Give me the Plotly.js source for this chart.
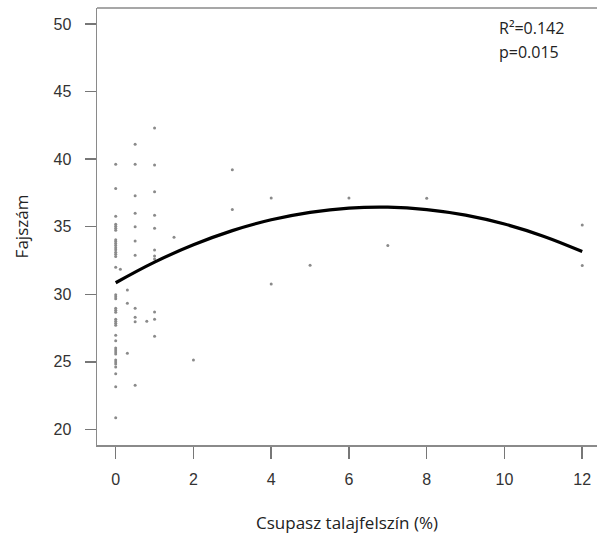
<!DOCTYPE html>
<html>
<head>
<meta charset="utf-8">
<script src="https://cdn.plot.ly/plotly-3.0.1.min.js"></script>
<style>html,body{margin:0;padding:0;background:#fff;}</style>
</head>
<body>
<div id="chart" style="width:597px;height:539px;"></div>
<script>
// Observed points: bare ground (%) and species count, grouped by x value
const x0Y   = [39.63,37.82,35.78,35.19,35.04,34.89,34.74,34.04,33.90,33.75,33.60,33.45,33.30,33.11,32.96,32.79,32.00,
               29.97,29.82,29.67,28.96,28.81,28.67,28.15,28.00,27.85,27.70,26.96,26.56,26.02,25.87,25.72,25.58,25.13,24.98,24.84,24.61,24.12,23.16,20.86];
const x012Y = [31.85];
const x03Y  = [30.32,29.33,25.63];
const x05Y  = [41.11,39.63,37.30,36.00,35.00,33.95,32.89,28.96,28.30,27.97,23.26];
const x08Y  = [28.00];
const x1Y   = [42.31,39.56,37.58,35.85,34.89,33.28,32.84,32.61,28.69,28.15,26.89];
const otherX = [1.5, 2, 3, 3, 4, 4, 5, 6, 7, 8, 12, 12];
const otherY = [34.22, 25.13, 39.21, 36.27, 37.13, 30.76, 32.15, 37.13, 33.60, 37.11, 35.13, 32.12];
// Fitted quadratic curve
const fitX = [0,1,2,3,4,5,6,7,8,9,10,11,12];
const fitY = [30.85,32.38,33.66,34.71,35.51,36.06,36.38,36.45,36.27,35.86,35.20,34.30,33.16];
const xTicks = [0,2,4,6,8,10,12];
const yTicks = [20,25,30,35,40,45,50];

const groups = [[0, x0Y], [0.12, x012Y], [0.3, x03Y], [0.5, x05Y], [0.8, x08Y], [1, x1Y]];
let ptX = [], ptY = [];
groups.forEach(([gx, ys]) => ys.forEach(v => { ptX.push(gx); ptY.push(v); }));
ptX = ptX.concat(otherX); ptY = ptY.concat(otherY);

const traces = [
  {x: ptX, y: ptY, type: 'scatter', mode: 'markers',
   marker: {size: 3, color: '#8a8a8a', symbol: 'circle'}, hoverinfo: 'skip'},
  {x: fitX, y: fitY, type: 'scatter', mode: 'lines',
   line: {color: '#000', width: 3.2, shape: 'spline', smoothing: 1.2}, hoverinfo: 'skip'}
];

const axisFont = {family: 'Liberation Sans, Arial, sans-serif', size: 16, color: '#333'};
const titleFont = {family: 'Open Sans, Noto Sans, sans-serif', size: 17, color: '#222'};
const layout = {
  width: 597, height: 539,
  margin: {l: 97, r: 0, t: 8, b: 94},
  paper_bgcolor: '#fff', plot_bgcolor: '#fff',
  showlegend: false,
  xaxis: {
    range: [-0.481, 12.38], tickvals: xTicks, ticktext: xTicks.map(String),
    showgrid: false, zeroline: false, showline: true, linecolor: '#8a8a8a', linewidth: 1.5,
    ticks: 'outside', ticklen: 12, tickcolor: '#777', tickwidth: 1.5,
    ticklabelstandoff: 7,
    tickfont: axisFont,
    title: {text: 'Csupasz talajfelszín (%)', font: titleFont, standoff: 30}
  },
  yaxis: {
    range: [18.84, 51.19], tickvals: yTicks, ticktext: yTicks.map(String),
    showgrid: false, zeroline: false, showline: true, linecolor: '#8a8a8a', linewidth: 1.5,
    ticks: 'outside', ticklen: 11, tickcolor: '#777', tickwidth: 1.5,
    ticklabelstandoff: 10,
    tickfont: axisFont,
    title: {text: 'Fajszám', font: titleFont, standoff: 20}
  },
  shapes: [
    {type: 'line', xref: 'paper', yref: 'paper', x0: 0, x1: 1, y0: 1, y1: 1,
     line: {color: '#8a8a8a', width: 1.5}}
  ],
  annotations: [
    {xref: 'paper', yref: 'paper', x: (497-97)/500, y: 1 - (28-8)/437, xanchor: 'left', yanchor: 'middle',
     text: 'R²=0.142', showarrow: false,
     font: {family: 'Open Sans, Noto Sans, sans-serif', size: 16, color: '#222'}},
    {xref: 'paper', yref: 'paper', x: (497-97)/500, y: 1 - (52-8)/437, xanchor: 'left', yanchor: 'middle',
     text: 'p=0.015', showarrow: false,
     font: {family: 'Open Sans, Noto Sans, sans-serif', size: 16, color: '#222'}}
  ]
};
Plotly.newPlot('chart', traces, layout, {displayModeBar: false, staticPlot: true});
</script>
</body>
</html>
